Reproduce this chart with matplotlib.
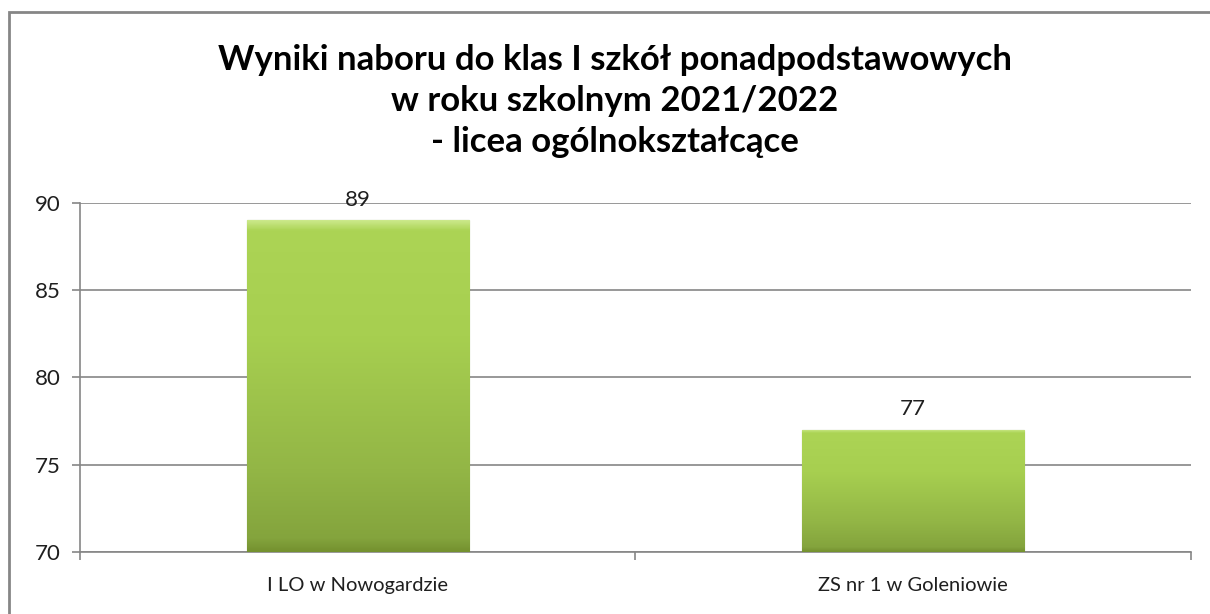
import numpy as np
import matplotlib.pyplot as plt
from matplotlib.patches import Rectangle
from matplotlib.colors import LinearSegmentedColormap

# ---------------------------
# DATA
# ---------------------------
schools = ["I LO w Nowogardzie", "ZS nr 1 w Goleniowie"]
values = [89, 77]
y_ticks = [70, 75, 80, 85, 90]
title = ("Wyniki naboru do klas I szkół ponadpodstawowych\n"
         "w roku szkolnym 2021/2022\n"
         "- licea ogólnokształcące")

plt.rcParams['font.family'] = ['Lato', 'DejaVu Sans']

fig = plt.figure(figsize=(12.1, 6.14), dpi=100)
ax = fig.add_axes([0.0661, 0.1010, 0.9182, 0.5684])

# outer frame of the chart area
fig.patches.append(Rectangle((9 / 1210, -0.05), 1.2, 1 - 12 / 614 + 0.05,
                             transform=fig.transFigure, fill=False,
                             edgecolor='#868686', linewidth=2))

x = np.arange(len(schools))
bars = ax.bar(x, values, width=0.4, bottom=0, color='#a5cf4f',
              edgecolor='#6b8a2c', linewidth=0.8, zorder=3)

# vertical gradient inside each bar (light top edge, darker bottom)
grad_cmap = LinearSegmentedColormap.from_list(
    'grn', [(0.0, '#cbe88a'), (0.03, '#acd455'), (0.35, '#a7cf50'),
            (0.75, '#93b646'), (0.96, '#84a43d'), (1.0, '#74912f')])
grad = np.linspace(0, 1, 256).reshape(-1, 1)
for b in bars:
    x0, w = b.get_x(), b.get_width()
    top = b.get_height()
    im = ax.imshow(grad, cmap=grad_cmap, aspect='auto', origin='upper',
                   extent=[x0, x0 + w, 70, top], zorder=3.5)
    im.set_clip_path(b)

for xi, v in zip(x, values):
    ax.text(xi, v + 0.6, str(v), ha='center', va='bottom', fontsize=16,
            color='#1f1f1f')

ax.set_xlim(-0.5, 1.5)
ax.set_ylim(70, 90)
ax.set_yticks(y_ticks)
ax.set_yticklabels([str(t) for t in y_ticks], fontsize=16, color='#1f1f1f')
ax.yaxis.grid(True, color='#868686', linewidth=1.2, zorder=0)
ax.set_axisbelow(True)

# category labels in between tick marks at group boundaries
ax.set_xticks([-0.5, 0.5, 1.5])
ax.set_xticklabels([])
ax.set_xticks(x, minor=True)
ax.set_xticklabels(schools, minor=True, fontsize=14.5, color='#1f1f1f')
ax.tick_params(axis='x', which='minor', length=0, pad=18)
ax.tick_params(axis='x', which='major', length=6, color='#868686', width=1.2)
ax.tick_params(axis='y', length=6, color='#868686', width=1.2, pad=8)

for side in ['top', 'right']:
    ax.spines[side].set_visible(False)
for side in ['left', 'bottom']:
    ax.spines[side].set_color('#868686')
    ax.spines[side].set_linewidth(1.2)

fig.text(0.508, 1 - 44 / 614, title, ha='center', va='top', fontsize=25,
         fontweight='bold', linespacing=1.34, color='black')

fig.savefig('out.png', dpi=100, facecolor='white')
